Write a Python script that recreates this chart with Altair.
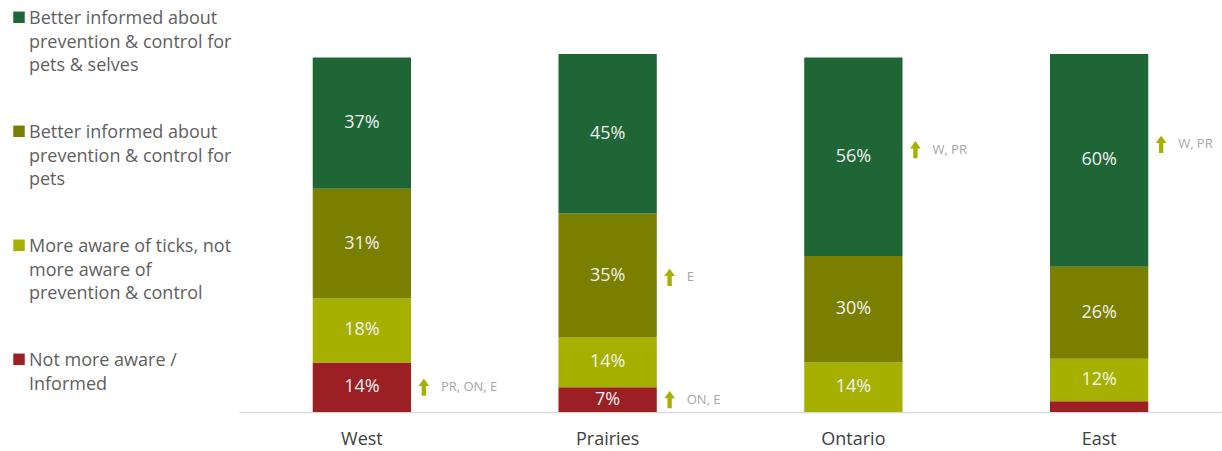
import altair as alt
import pandas as pd

regions = ["West", "Prairies", "Ontario", "East"]

# legend order (top to bottom)
series_names = [
    "Better informed about\nprevention & control for\npets & selves",
    "Better informed about\nprevention & control for\npets",
    "More aware of ticks, not\nmore aware of\nprevention & control",
    "Not more aware /\nInformed",
]
series_colors = ["#1f6636", "#7a7f00", "#a5b000", "#9b1f23"]

better_selves = [37, 45, 56, 60]
better_pets = [31, 35, 30, 26]
more_aware = [18, 14, 14, 12]
not_aware = [14, 7, 0, 3]

ann_region = ["West", "Prairies", "Prairies", "Ontario", "East"]
ann_y = [7, 3.5, 38, 74, 75.5]
ann_text = ["PR, ON, E", "ON, E", "E", "W, PR", "W, PR"]

# stack bottom -> top
stack = [
    (series_names[3], not_aware),
    (series_names[2], more_aware),
    (series_names[1], better_pets),
    (series_names[0], better_selves),
]
rows = []
for ri, reg in enumerate(regions):
    base = 0
    for order, (name, vals) in enumerate(stack):
        v = vals[ri]
        rows.append(dict(region=reg, series=name, value=v, y0=base, y1=base + v,
                         mid=base + v / 2, order=order,
                         label=f"{v}%" if v >= 5 else ""))
        base += v
df = pd.DataFrame(rows)
ann = pd.DataFrame(dict(region=ann_region, y=ann_y, text=ann_text))

FONT = "Open Sans"

x = alt.X("region:N", sort=regions, title=None,
          scale=alt.Scale(paddingInner=0.6, paddingOuter=0.3),
          axis=alt.Axis(labelAngle=0, ticks=False, domainColor="#d9d9d9", domainWidth=1.5,
                        labelFont=FONT, labelFontSize=18, labelColor="#404040", labelPadding=18))
yscale = alt.Scale(domain=[0, 101], nice=False)

bars = alt.Chart(df).mark_bar().encode(
    x=x,
    y=alt.Y("y0:Q", scale=yscale, axis=None),
    y2="y1:Q",
    color=alt.Color("series:N", scale=alt.Scale(domain=series_names, range=series_colors),
                    legend=alt.Legend(orient="none", legendX=-229, legendY=-53, title=None,
                                      labelExpr="split(datum.label, '\\n')",
                                      labelFont=FONT, labelFontSize=18, labelColor="#5f5f5f",
                                      labelLimit=400, labelBaseline="top", labelOffset=1,
                                      symbolType="M-1,0.27H1V2.27H-1Z", symbolSize=132,
                                      symbolStrokeWidth=0, symbolOpacity=1,
                                      rowPadding=40, padding=0)),
    order=alt.Order("order:Q"),
)

labels = alt.Chart(df).mark_text(font=FONT, fontSize=18, color="#f0f0f0").encode(
    x=alt.X("region:N", sort=regions),
    y=alt.Y("mid:Q", scale=yscale),
    text="label:N",
)

arrows = alt.Chart(ann).mark_point(
    shape="M0,-1L0.62,-0.15L0.25,-0.15L0.25,1L-0.25,1L-0.25,-0.15L-0.62,-0.15Z",
    filled=True, color="#a5b000", opacity=1, size=300, xOffset=62,
).encode(x=alt.X("region:N", sort=regions), y=alt.Y("y:Q", scale=yscale))

ann_text_mark = alt.Chart(ann).mark_text(
    font=FONT, fontSize=13, color="#a6a6a6", align="left", xOffset=79,
).encode(x=alt.X("region:N", sort=regions), y=alt.Y("y:Q", scale=yscale), text="text:N")

chart = alt.layer(bars, labels, arrows, ann_text_mark).properties(
    width=983, height=358,
    autosize=alt.AutoSizeParams(type="none"),
    padding={"left": 239, "top": 54, "right": 0, "bottom": 39},
).configure(
    view=alt.ViewConfig(stroke=None),
    style={"guide-label": {"lineHeight": 23.5}},
)

chart.save("out.html", embed_options={"renderer": "svg", "actions": False})
